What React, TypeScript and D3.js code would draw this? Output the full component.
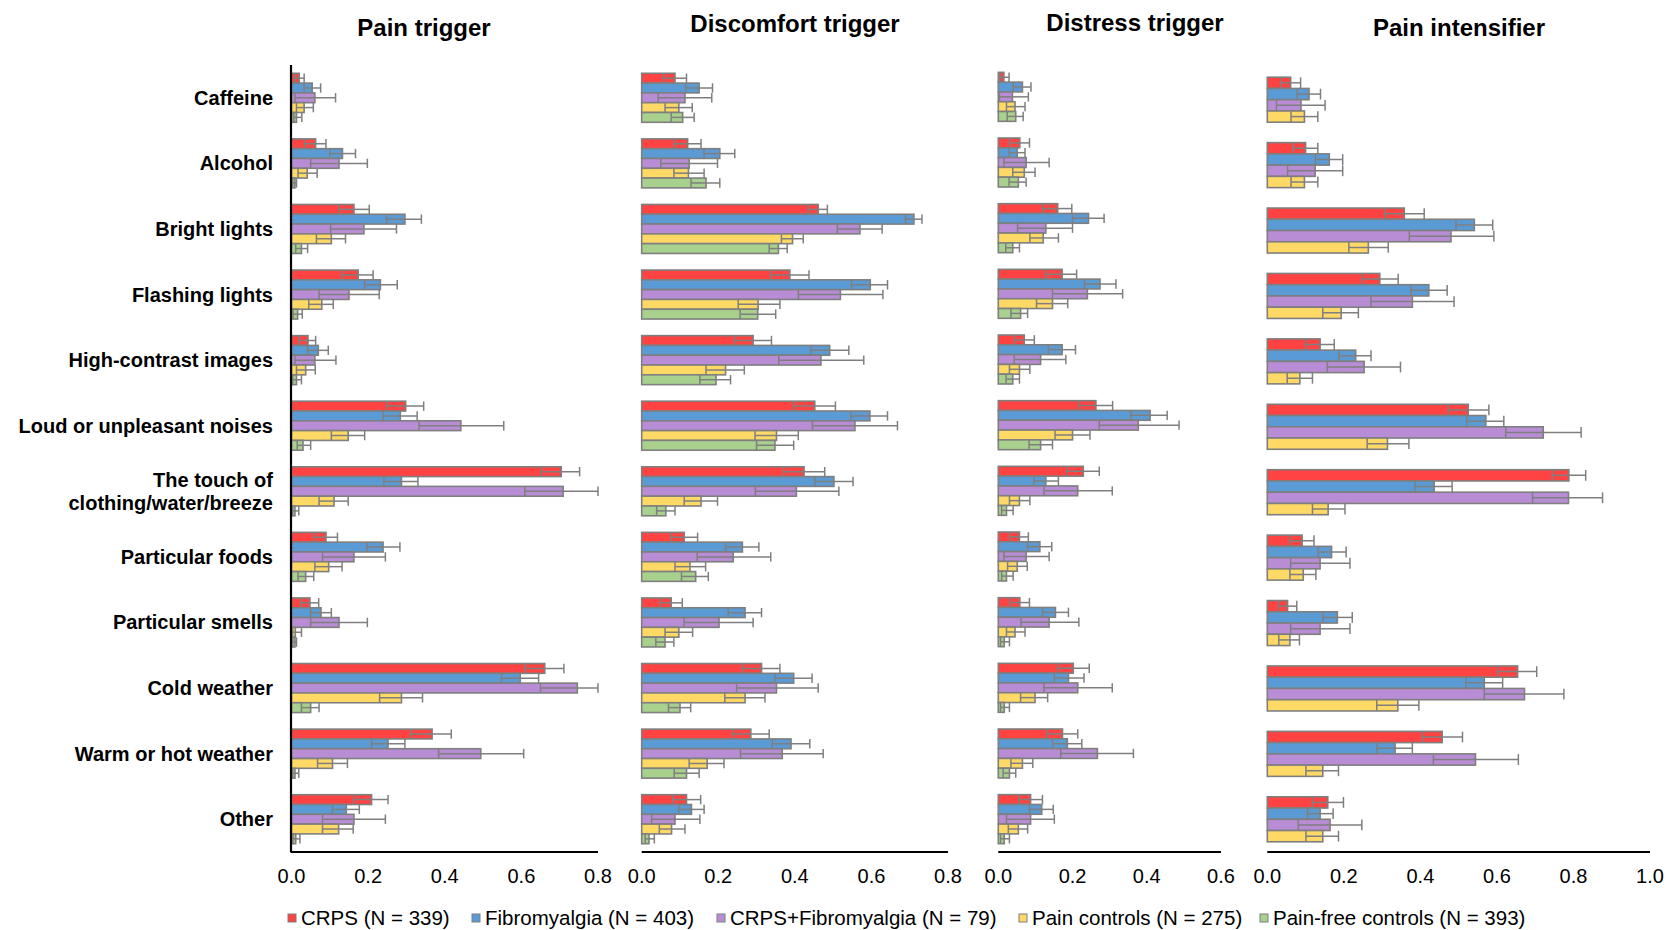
import React from "react";
import * as d3 from "d3";

const categories = [
  "Caffeine", "Alcohol", "Bright lights", "Flashing lights", "High-contrast images",
  "Loud or unpleasant noises", "The touch of\nclothing/water/breeze", "Particular foods",
  "Particular smells", "Cold weather", "Warm or hot weather", "Other",
];

const seriesNames = [
  "CRPS (N = 339)", "Fibromyalgia (N = 403)", "CRPS+Fibromyalgia (N = 79)",
  "Pain controls (N = 275)", "Pain-free controls (N = 393)",
];
const seriesColors = ["#FF4242", "#5B9BD5", "#B98DD6", "#FFD966", "#A9D18E"];

// each entry: [proportion, lower CI, upper CI]
// ---- Pain trigger ----
const ptCRPS = [[.02,.008,.033],[.063,.035,.09],[.163,.124,.203],[.174,.132,.213],[.043,.019,.063],[.298,.248,.345],[.704,.652,.752],[.09,.059,.12],[.048,.024,.071],[.661,.609,.711],[.367,.311,.417],[.209,.163,.252]];
const ptFM = [[.054,.033,.076],[.133,.1,.167],[.296,.248,.339],[.232,.191,.276],[.07,.042,.096],[.284,.239,.328],[.287,.241,.33],[.239,.197,.283],[.077,.05,.104],[.597,.548,.645],[.252,.209,.296],[.143,.107,.177]];
const ptBoth = [[.061,.009,.115],[.124,.05,.198],[.189,.102,.274],[.15,.072,.229],[.061,.009,.116],[.442,.333,.554],[.709,.609,.8],[.163,.081,.245],[.124,.05,.198],[.746,.65,.8],[.494,.384,.606],[.163,.081,.245]];
const ptPain = [[.033,.013,.057],[.041,.017,.067],[.104,.065,.141],[.079,.045,.109],[.037,.013,.062],[.148,.104,.191],[.111,.072,.148],[.097,.061,.132],[.01,.003,.026],[.287,.23,.342],[.107,.068,.146],[.123,.081,.161]];
const ptFree = [[.013,.006,.027],[.009,.003,.013],[.026,.011,.042],[.016,.004,.028],[.013,.003,.026],[.03,.015,.05],[.009,.003,.019],[.037,.017,.058],[.009,.003,.013],[.05,.026,.072],[.009,.003,.019],[.011,.004,.022]];

// ---- Discomfort trigger ----
const dcCRPS = [[.087,.057,.117],[.12,.085,.155],[.461,.435,.485],[.387,.337,.437],[.291,.242,.339],[.452,.397,.506],[.424,.371,.478],[.111,.077,.146],[.077,.048,.106],[.313,.263,.361],[.285,.237,.333],[.117,.081,.154]];
const dcFM = [[.15,.115,.185],[.204,.163,.243],[.711,.689,.732],[.597,.548,.642],[.491,.442,.541],[.596,.546,.642],[.502,.452,.552],[.263,.219,.306],[.27,.226,.313],[.397,.348,.445],[.39,.341,.439],[.13,.097,.163]];
const dcBoth = [[.113,.043,.183],[.124,.05,.198],[.57,.511,.628],[.519,.409,.63],[.468,.358,.58],[.557,.446,.668],[.404,.297,.515],[.239,.145,.337],[.202,.111,.291],[.352,.248,.461],[.367,.258,.474],[.087,.026,.152]];
const dcPain = [[.097,.061,.132],[.122,.084,.163],[.394,.365,.422],[.304,.252,.361],[.219,.168,.268],[.352,.296,.409],[.155,.111,.198],[.126,.087,.167],[.097,.061,.133],[.27,.217,.322],[.171,.124,.215],[.078,.046,.113]];
const dcFree = [[.107,.077,.137],[.168,.129,.204],[.357,.333,.38],[.303,.257,.35],[.194,.152,.232],[.348,.3,.397],[.063,.039,.087],[.141,.104,.174],[.061,.037,.084],[.1,.07,.128],[.117,.085,.15],[.019,.009,.033]];

// ---- Distress trigger ----
const dsCRPS = [[.015,.004,.029],[.058,.031,.084],[.16,.119,.198],[.172,.128,.211],[.07,.043,.097],[.263,.216,.308],[.229,.184,.272],[.057,.031,.081],[.058,.031,.084],[.202,.16,.245],[.173,.132,.214],[.087,.056,.119]];
const dsFM = [[.065,.04,.088],[.051,.029,.072],[.243,.2,.285],[.274,.232,.317],[.172,.135,.208],[.409,.357,.455],[.128,.096,.162],[.112,.079,.144],[.154,.119,.189],[.189,.151,.231],[.186,.146,.225],[.117,.084,.148]];
const dsBoth = [[.038,.003,.081],[.075,.015,.137],[.128,.052,.2],[.24,.146,.335],[.114,.043,.182],[.377,.272,.487],[.214,.123,.307],[.075,.015,.137],[.137,.061,.217],[.214,.123,.307],[.267,.168,.364],[.087,.022,.151]];
const dsPain = [[.045,.022,.072],[.07,.039,.099],[.121,.085,.162],[.146,.103,.187],[.057,.03,.085],[.2,.153,.247],[.057,.03,.085],[.051,.025,.078],[.045,.022,.072],[.099,.06,.133],[.065,.034,.093],[.054,.027,.079]];
const dsFree = [[.047,.024,.067],[.054,.029,.075],[.039,.02,.057],[.06,.034,.079],[.039,.021,.057],[.114,.083,.146],[.022,.009,.04],[.022,.009,.04],[.016,.006,.03],[.016,.006,.03],[.03,.013,.047],[.016,.006,.03]];

// ---- Pain intensifier ----
const piCRPS = [[.061,.036,.087],[.1,.068,.132],[.358,.307,.41],[.294,.248,.342],[.138,.101,.175],[.525,.473,.579],[.788,.745,.832],[.091,.059,.122],[.053,.029,.077],[.654,.602,.704],[.457,.405,.51],[.158,.118,.199]];
const piFM = [[.109,.078,.139],[.162,.126,.197],[.541,.493,.589],[.422,.375,.47],[.231,.187,.271],[.571,.521,.618],[.436,.386,.483],[.168,.133,.206],[.183,.145,.222],[.567,.519,.615],[.334,.287,.379],[.138,.105,.172]];
const piBoth = [[.088,.024,.151],[.125,.053,.197],[.48,.371,.592],[.379,.271,.488],[.253,.157,.348],[.721,.623,.82],[.787,.693,.876],[.138,.061,.216],[.138,.061,.216],[.672,.567,.775],[.544,.434,.656],[.164,.081,.247]];
const piPain = [[.097,.062,.132],[.097,.062,.132],[.264,.213,.316],[.193,.145,.238],[.085,.052,.118],[.314,.261,.37],[.159,.118,.203],[.094,.059,.127],[.059,.03,.084],[.341,.286,.396],[.145,.101,.186],[.145,.101,.186]];

const painTriggerTicks = [0, 0.2, 0.4, 0.6, 0.8];
const discomfortTicks = [0, 0.2, 0.4, 0.6, 0.8];
const distressTicks = [0, 0.2, 0.4, 0.6];
const intensifierTicks = [0, 0.2, 0.4, 0.6, 0.8, 1.0];

const panels = [
  { title: "Pain trigger", series: [ptCRPS, ptFM, ptBoth, ptPain, ptFree], ticks: painTriggerTicks,
    xr: [291.5, 598], tx: 424, ty: 36, yr: [65, 852], gh: 49, yAxis: true },
  { title: "Discomfort trigger", series: [dcCRPS, dcFM, dcBoth, dcPain, dcFree], ticks: discomfortTicks,
    xr: [641.7, 948], tx: 795, ty: 32, yr: [65, 852], gh: 49, yAxis: false },
  { title: "Distress trigger", series: [dsCRPS, dsFM, dsBoth, dsPain, dsFree], ticks: distressTicks,
    xr: [998.3, 1221], tx: 1135, ty: 31, yr: [64, 852], gh: 49, yAxis: false },
  { title: "Pain intensifier", series: [piCRPS, piFM, piBoth, piPain], ticks: intensifierTicks,
    xr: [1267.3, 1650], tx: 1459, ty: 36, yr: [67, 852], gh: 45, yAxis: false },
];

const FONT = "'Liberation Sans', Arial, Helvetica, sans-serif";
const GRAY = "#7F7F7F";

function Panel({ p }: { p: any }) {
  const x = d3.scaleLinear().domain([0, p.ticks[p.ticks.length - 1]]).range(p.xr);
  const y = d3.scaleBand<string>().domain(categories).range(p.yr).padding(0);
  const idx = d3.range(p.series.length).map(String);
  const bars: any[] = [];
  const whiskers: any[] = [];
  categories.forEach((c, ci) => {
    const cy = (y(c) as number) + y.bandwidth() / 2;
    const inner = d3.scaleBand<string>().domain(idx).range([cy - p.gh / 2, cy + p.gh / 2]).padding(0);
    p.series.forEach((s: number[][], si: number) => {
      const [m, lo, hi] = s[ci];
      const by = inner(String(si)) as number;
      const bh = inner.bandwidth();
      bars.push(
        <rect key={`b${ci}-${si}`} x={x(0)} y={by} width={Math.max(0, x(m) - x(0))} height={bh}
          fill={seriesColors[si]} stroke={GRAY} strokeWidth={1.6} />
      );
      const my = by + bh / 2;
      const ch = bh * 0.48;
      whiskers.push(
        <g key={`w${ci}-${si}`} stroke={GRAY} strokeWidth={1.5}>
          <line x1={x(lo)} x2={x(hi)} y1={my} y2={my} />
          <line x1={x(lo)} x2={x(lo)} y1={my - ch} y2={my + ch} />
          <line x1={x(hi)} x2={x(hi)} y1={my - ch} y2={my + ch} />
        </g>
      );
    });
  });
  return (
    <g>
      <text x={p.tx} y={p.ty} textAnchor="middle" fontFamily={FONT} fontWeight="bold" fontSize={24}>{p.title}</text>
      {bars}
      {whiskers}
      <line x1={p.xr[0] - (p.yAxis ? 1 : 0)} x2={p.xr[1]} y1={852} y2={852} stroke="#000" strokeWidth={1.8} />
      {p.yAxis && <line x1={p.xr[0] - 0.5} x2={p.xr[0] - 0.5} y1={65} y2={852} stroke="#000" strokeWidth={2.2} />}
      {p.ticks.map((t: number) => (
        <text key={t} x={x(t)} y={883} textAnchor="middle" fontFamily={FONT} fontSize={20}>{d3.format(".1f")(t)}</text>
      ))}
    </g>
  );
}

const legendX = [288, 472, 717, 1019, 1260];

export default function App() {
  const yCat = d3.scaleBand<string>().domain(categories).range([65, 852]).padding(0);
  return (
    <svg width={1669} height={930} style={{ position: "absolute", left: 0, top: 0, background: "#fff" }}>
      <rect x={0} y={0} width={1669} height={930} fill="#fff" />
      {categories.map((c) => {
        const cy = (yCat(c) as number) + yCat.bandwidth() / 2;
        const lines = c.split("\n");
        const lh = 23;
        return (
          <text key={c} x={273} textAnchor="end" fontFamily={FONT} fontWeight="bold" fontSize={20}>
            {lines.map((l, i) => (
              <tspan key={i} x={273} y={cy + 7 + (i - (lines.length - 1) / 2) * lh}>{l}</tspan>
            ))}
          </text>
        );
      })}
      {panels.map((p) => <Panel key={p.title} p={p} />)}
      {seriesNames.map((n, i) => (
        <g key={n}>
          <rect x={legendX[i]} y={914} width={8} height={8} fill={seriesColors[i]} stroke={GRAY} strokeWidth={1} />
          <text x={legendX[i] + 13} y={924.5} fontFamily={FONT} fontSize={20.5}>{n}</text>
        </g>
      ))}
    </svg>
  );
}
